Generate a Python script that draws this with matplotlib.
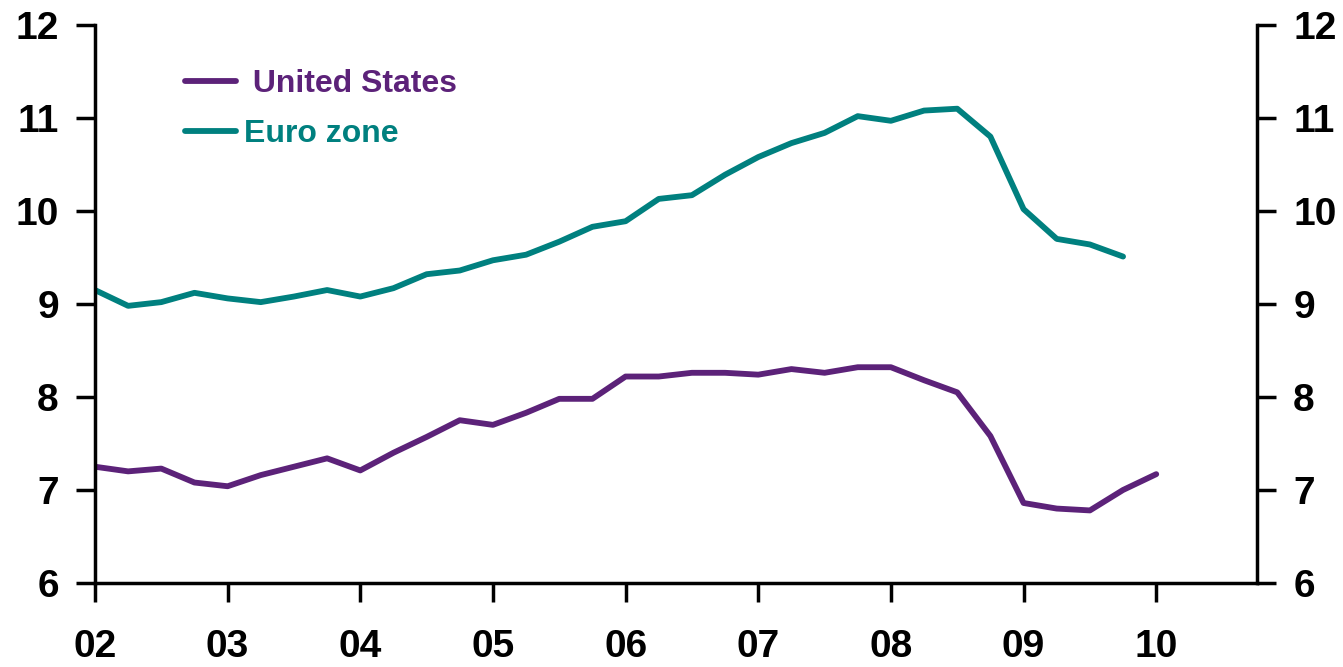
import numpy as np
import matplotlib.pyplot as plt

# quarterly, starting 2002 Q1
quarters = np.arange(2002, 2010.01, 0.25)

us_values = [
    7.25, 7.20, 7.23, 7.08, 7.04, 7.16, 7.25, 7.34,
    7.21, 7.40, 7.57, 7.75, 7.70, 7.83, 7.98, 7.98,
    8.22, 8.22, 8.26, 8.26, 8.24, 8.30, 8.26, 8.32,
    8.32, 8.18, 8.05, 7.58, 6.86, 6.80, 6.78, 7.00,
    7.17,
]
euro_values = [
    9.15, 8.98, 9.02, 9.12, 9.06, 9.02, 9.08, 9.15,
    9.08, 9.17, 9.32, 9.36, 9.47, 9.53, 9.67, 9.83,
    9.89, 10.13, 10.17, 10.39, 10.58, 10.73, 10.84, 11.02,
    10.97, 11.08, 11.10, 10.80, 10.02, 9.70, 9.64, 9.51,
]

year_ticks = list(range(2002, 2011))
year_labels = ["02", "03", "04", "05", "06", "07", "08", "09", "10"]
y_ticks = [6, 7, 8, 9, 10, 11, 12]

us_color = "#5C2279"
euro_color = "#00807F"

plt.rcParams["font.family"] = ["Liberation Sans", "DejaVu Sans"]
plt.rcParams["font.weight"] = "bold"

fig = plt.figure(figsize=(13.43, 6.67), dpi=100)
ax = fig.add_axes([0.0707, 0.126, 0.8653, 0.8365])

ax.plot(quarters, us_values, color=us_color, linewidth=4.2, label=" United States",
        solid_capstyle="round", solid_joinstyle="round")
ax.plot(quarters[:len(euro_values)], euro_values, color=euro_color, linewidth=4.2,
        label="Euro zone", solid_capstyle="round", solid_joinstyle="round")

ax.set_xlim(2002, 2010.76)
ax.set_ylim(6, 12)
ax.set_xticks(year_ticks)
ax.set_xticklabels(year_labels)
ax.set_yticks(y_ticks)

for side in ["left", "right", "bottom"]:
    ax.spines[side].set_linewidth(2.5)
ax.spines["top"].set_visible(False)

ax.tick_params(axis="both", which="both", direction="out", length=14, width=2.5,
               labelsize=28, pad=12)
ax.tick_params(axis="x", pad=19)
ax.tick_params(axis="y", left=True, right=True, labelleft=True, labelright=True)

leg = ax.legend(loc="upper left", bbox_to_anchor=(0.053, 0.972), frameon=False,
                fontsize=23, handlelength=1.6, handletextpad=0.25,
                labelspacing=0.62, labelcolor="linecolor")

fig.savefig("out.png", dpi=100)
